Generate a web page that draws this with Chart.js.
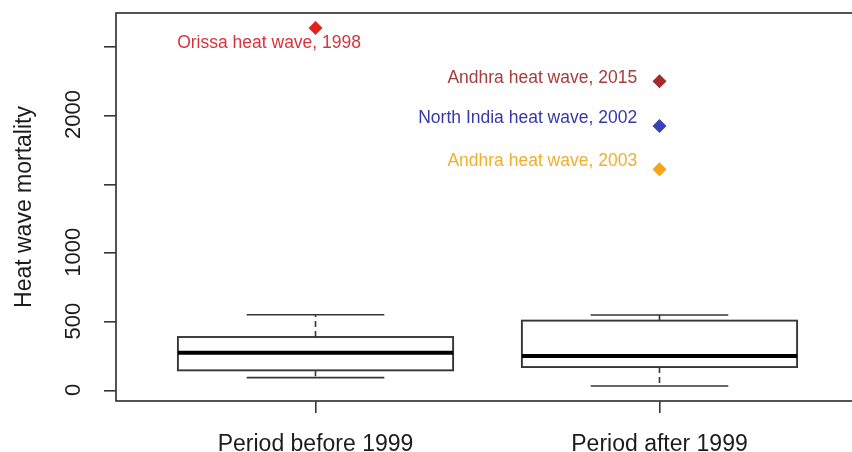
<!DOCTYPE html>
<html>
<head>
<meta charset="utf-8">
<script src="https://cdn.jsdelivr.net/npm/chart.js@4/dist/chart.umd.min.js"></script>
<style>
  html, body { margin: 0; padding: 0; background: #fff; overflow: hidden; width: 852px; height: 452px; }
  #wrap { position: relative; width: 866px; height: 452px; }
</style>
</head>
<body>
<div id="wrap"><canvas id="c" width="866" height="452"></canvas></div>
<script>
// Box-plot summaries for each period (heat wave deaths per event)
const periods = ['Period before 1999', 'Period after 1999'];
const periodPos = [1, 2];
const whiskerLow = [97, 36];
const quartile1 = [150, 174];
const medians = [278, 254];
const quartile3 = [392, 511];
const whiskerHigh = [554, 552];

// Extreme events shown as outliers
const eventNames = ['Orissa heat wave, 1998', 'Andhra heat wave, 2015', 'North India heat wave, 2002', 'Andhra heat wave, 2003'];
const eventPeriod = [1, 2, 2, 2];
const eventDeaths = [2635, 2250, 1925, 1610];
const eventColors = ['#e3231b', '#a52a2a', '#3543b5', '#f7a21b'];
const eventTextColors = ['#d8333d', '#a63c3c', '#3838a8', '#f0ae2c'];
// label anchors in data units
const eventLabelX = [0.865, 1.935, 1.935, 1.935];
const eventLabelY = [2527, 2273, 1982, 1670];
const eventLabelAlign = ['center', 'right', 'right', 'right'];

const yTicks = [0, 500, 1000, 1500, 2000, 2500];
const yTickLabels = ['0', '500', '1000', '', '2000', ''];

const FONT = "'Liberation Sans', Arial, Helvetica, sans-serif";
const INK = '#1c1c1c';
const LINE = '#363636';

const boxPlugin = {
  id: 'boxes',
  beforeDatasetsDraw(chart) {
    const { ctx } = chart;
    const xs = chart.scales.x, ys = chart.scales.y;
    ctx.save();
    for (let i = 0; i < periodPos.length; i++) {
      const cx = xs.getPixelForValue(periodPos[i]);
      const hw = xs.getPixelForValue(periodPos[i] + 0.4) - cx;
      const sw = xs.getPixelForValue(periodPos[i] + 0.2) - cx;
      const yLo = ys.getPixelForValue(whiskerLow[i]);
      const yQ1 = ys.getPixelForValue(quartile1[i]);
      const yMed = ys.getPixelForValue(medians[i]);
      const yQ3 = ys.getPixelForValue(quartile3[i]);
      const yHi = ys.getPixelForValue(whiskerHigh[i]);

      // dashed whiskers
      ctx.strokeStyle = LINE;
      ctx.lineWidth = 1.6;
      ctx.setLineDash([6, 4]);
      ctx.beginPath();
      ctx.moveTo(cx, yQ3); ctx.lineTo(cx, yHi);
      ctx.moveTo(cx, yQ1); ctx.lineTo(cx, yLo);
      ctx.stroke();
      ctx.setLineDash([]);

      // staples
      ctx.beginPath();
      ctx.moveTo(cx - sw, yHi); ctx.lineTo(cx + sw, yHi);
      ctx.moveTo(cx - sw, yLo); ctx.lineTo(cx + sw, yLo);
      ctx.stroke();

      // box
      ctx.fillStyle = '#fff';
      ctx.fillRect(cx - hw, yQ3, 2 * hw, yQ1 - yQ3);
      ctx.lineWidth = 1.9;
      ctx.strokeRect(cx - hw, yQ3, 2 * hw, yQ1 - yQ3);

      // median
      ctx.strokeStyle = '#000';
      ctx.lineWidth = 4;
      ctx.beginPath();
      ctx.moveTo(cx - hw, yMed); ctx.lineTo(cx + hw, yMed);
      ctx.stroke();
    }
    ctx.restore();
  },
  afterDraw(chart) {
    const { ctx, chartArea: a } = chart;
    const xs = chart.scales.x, ys = chart.scales.y;
    ctx.save();
    // plot frame
    ctx.strokeStyle = LINE;
    ctx.lineWidth = 1.7;
    ctx.strokeRect(a.left, a.top, a.right - a.left, a.bottom - a.top);

    // rotated y tick labels
    ctx.fillStyle = INK;
    ctx.font = '22px ' + FONT;
    ctx.textAlign = 'center';
    ctx.textBaseline = 'middle';
    yTicks.forEach((v, i) => {
      if (!yTickLabels[i]) return;
      ctx.save();
      ctx.translate(74, ys.getPixelForValue(v) - 1);
      ctx.rotate(-Math.PI / 2);
      ctx.fillText(yTickLabels[i], 0, 0);
      ctx.restore();
    });

    // event annotations
    ctx.font = '17.5px ' + FONT;
    eventNames.forEach((name, i) => {
      ctx.fillStyle = eventTextColors[i];
      ctx.textAlign = eventLabelAlign[i];
      ctx.fillText(name, xs.getPixelForValue(eventLabelX[i]), ys.getPixelForValue(eventLabelY[i]));
    });
    ctx.restore();
  }
};

new Chart(document.getElementById('c').getContext('2d'), {
  type: 'scatter',
  data: {
    datasets: [{
      data: eventPeriod.map((p, i) => ({ x: p, y: eventDeaths[i] })),
      pointStyle: 'rectRot',
      pointRadius: 7,
      pointHoverRadius: 7,
      backgroundColor: eventColors,
      borderColor: eventColors,
      borderWidth: 0
    }]
  },
  options: {
    responsive: false,
    animation: false,
    devicePixelRatio: 1,
    layout: { padding: { top: 13, right: 6, left: 0, bottom: 0 } },
    plugins: { legend: { display: false }, tooltip: { enabled: false } },
    scales: {
      x: {
        type: 'linear',
        min: 0.42,
        max: 2.58,
        afterBuildTicks: s => { s.ticks = periodPos.map(v => ({ value: v })); },
        afterFit: s => { s.height = 51; },
        border: { display: false },
        grid: { drawOnChartArea: false, drawTicks: true, tickLength: 12, color: LINE, lineWidth: 1.6 },
        ticks: {
          callback: (v, i) => periods[i],
          font: { family: FONT, size: 23 },
          color: INK,
          padding: 18,
          maxRotation: 0,
          autoSkip: false
        }
      },
      y: {
        min: -72.6,
        max: 2744.7,
        afterBuildTicks: s => { s.ticks = yTicks.map(v => ({ value: v })); },
        afterFit: s => { s.width = 116; },
        border: { display: false },
        grid: { drawOnChartArea: false, drawTicks: true, tickLength: 12, color: LINE, lineWidth: 1.6 },
        ticks: { display: false },
        title: {
          display: true,
          text: 'Heat wave mortality',
          font: { family: FONT, size: 23 },
          color: INK,
          padding: { top: 11, bottom: 0 }
        }
      }
    }
  },
  plugins: [boxPlugin]
});
</script>
</body>
</html>
